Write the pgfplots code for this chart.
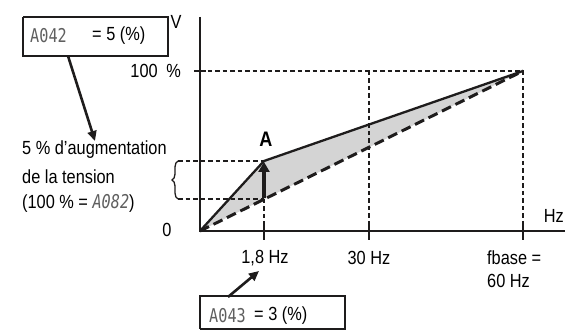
\documentclass[border=0pt]{standalone}
\usepackage{fontspec}
\setmainfont{Liberation Sans}[FakeStretch=0.86]
\newfontfamily\segfont{DejaVu Sans Mono}[FakeStretch=0.8]
\usepackage{pgfplots}
\pgfplotsset{compat=1.18}
\usetikzlibrary{decorations.pathreplacing,arrows.meta}
\definecolor{ink}{RGB}{30,28,28}
\definecolor{fillg}{RGB}{212,212,212}
\definecolor{segg}{RGB}{95,95,95}
\newcommand{\seg}[1]{{\segfont\color{segg}#1}}
\begin{document}
\begin{tikzpicture}[font=\fontsize{19}{22}\selectfont]
\begin{axis}[name=ax, scale only axis, width=565pt, height=331pt,
  xmin=0, xmax=565, ymin=0, ymax=331, hide axis, clip=false]
% shaded area between curves
\addplot[fill=fillg, draw=none] coordinates {(200,100) (264,170) (523,260)} -- cycle;
% guide lines
\addplot[ink, line width=1.4pt, dash pattern=on 4.5pt off 3pt] coordinates {(200,260) (523,260)};
\addplot[ink, line width=1.4pt, dash pattern=on 4.5pt off 3pt] coordinates {(523,260) (523,100)};
\addplot[ink, line width=1.4pt, dash pattern=on 4.5pt off 3pt] coordinates {(369,260) (369,100)};
\addplot[ink, line width=1.4pt, dash pattern=on 4.5pt off 3pt] coordinates {(264,132) (264,100)};
\addplot[ink, line width=1.4pt, dash pattern=on 4.5pt off 3pt] coordinates {(178,170) (264,170)};
\addplot[ink, line width=1.4pt, dash pattern=on 4.5pt off 3pt] coordinates {(178,132) (264,132)};
% curves
\addplot[ink, line width=3pt, dash pattern=on 10pt off 5pt] coordinates {(200,100) (523,260)};
\addplot[ink, line width=2.3pt] coordinates {(200,100) (264,170) (523,260)};
% axes
\addplot[ink, line width=2pt] coordinates {(200,314) (200,100) (565,100)};
\addplot[ink, line width=2.4pt] coordinates {(194,260) (206,260)};
\addplot[ink, line width=2.8pt] coordinates {(264,108) (264,91)};
\addplot[ink, line width=2.8pt] coordinates {(369,108) (369,91)};
\addplot[ink, line width=2.8pt] coordinates {(523,108) (523,91)};
% boost arrow
\addplot[ink, line width=3.2pt, -{Triangle[length=10pt,width=11pt]}] coordinates {(264,133) (264,169)};
% pointer arrows
\addplot[ink, line width=2.6pt, -{Triangle[length=10pt,width=9pt]}] coordinates {(68,275) (95,190)};
\addplot[ink, line width=2.6pt, -{Triangle[length=10pt,width=9pt]}] coordinates {(228,34) (259,60)};
% boxes
\addplot[ink, line width=1.5pt] coordinates {(23,314) (168,314) (168,275) (23,275) (23,314)};
\addplot[ink, line width=1.5pt] coordinates {(200,2) (345,2) (345,35) (200,35) (200,2)};
% brace
\draw[ink, decorate, decoration={brace, amplitude=6pt}, line width=1.3pt] (axis cs:178,132) -- (axis cs:178,170);
% texts
\node[anchor=west, inner sep=0] at (axis cs:30,295) {\seg{A042}};
\node[anchor=west, inner sep=0] at (axis cs:92,295) {= 5 (\%)};
\node[anchor=west, inner sep=0] at (axis cs:209,15) {\seg{A043}};
\node[anchor=west, inner sep=0] at (axis cs:254,15) {= 3 (\%)};
\node[inner sep=0] at (axis cs:176,309) {V};
\node[anchor=east, inner sep=0] at (axis cs:181,260) {100\hspace{0.45em}\%};
\node[inner sep=0] at (axis cs:167,101) {0};
\node[inner sep=0] at (axis cs:265,73) {1,8 Hz};
\node[inner sep=0] at (axis cs:369,73) {30 Hz};
\node[anchor=west, inner sep=0] at (axis cs:487,73) {fbase =};
\node[anchor=west, inner sep=0] at (axis cs:487,50) {60 Hz};
\node[anchor=east, inner sep=0] at (axis cs:564,115) {Hz};
\node[inner sep=0] at (axis cs:266,192) {\fontsize{21}{22}\selectfont\bfseries A};
\node[anchor=west, inner sep=0] at (axis cs:22,181) {5 \% d’augmentation};
\node[anchor=west, inner sep=0] at (axis cs:22,154) {de la tension};
\node[anchor=west, inner sep=0] at (axis cs:22,128) {(100 \% = {\segfont\itshape\color{segg}A082})};
\end{axis}
\pgfresetboundingbox
\path (ax.south west) rectangle (ax.north east);
\end{tikzpicture}
\end{document}
